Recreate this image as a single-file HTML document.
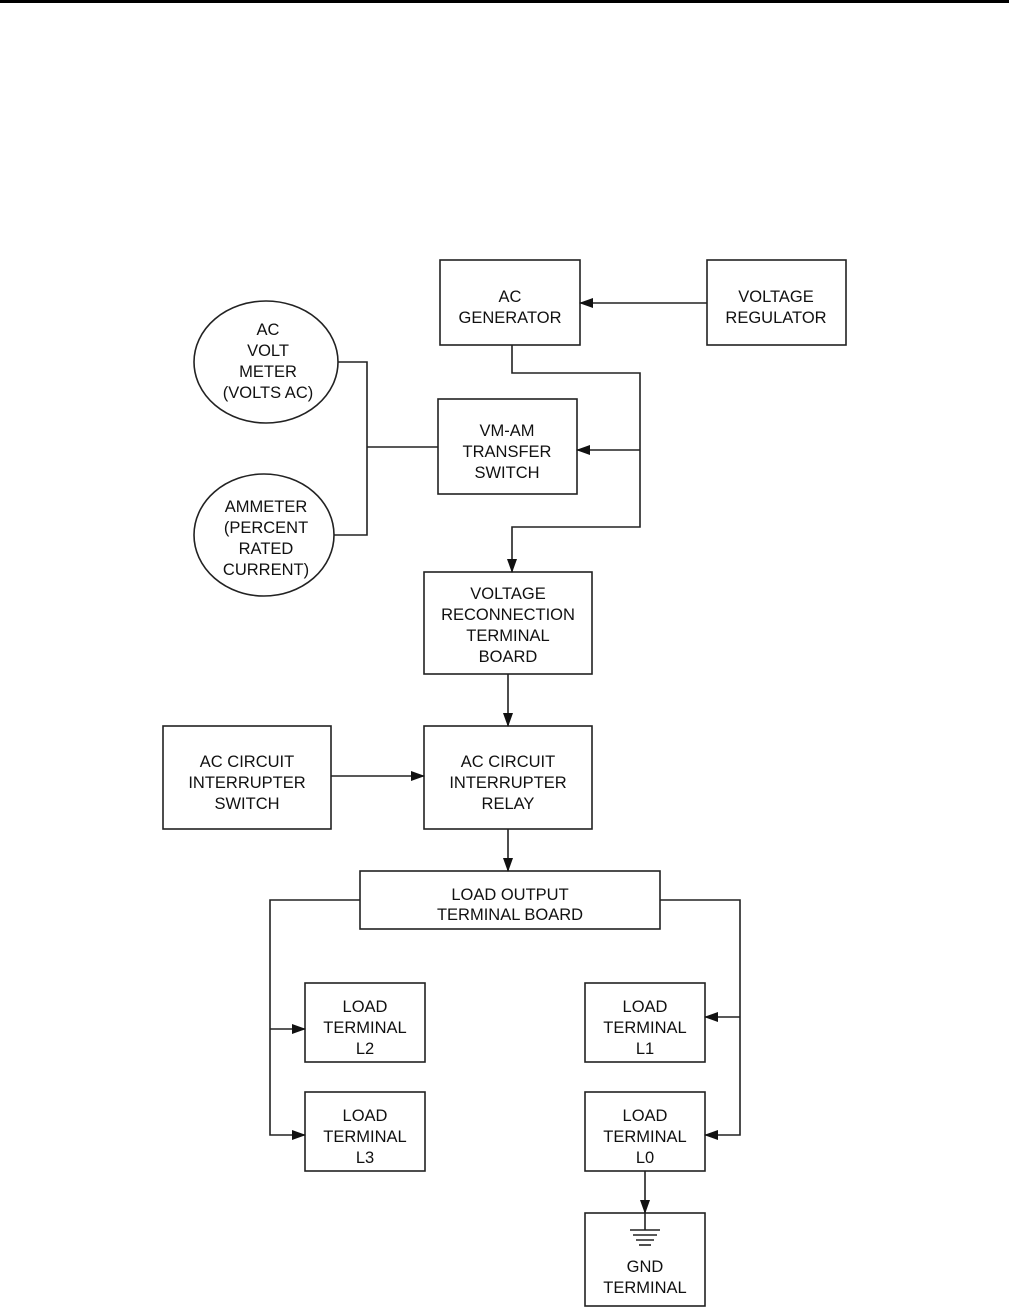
<!DOCTYPE html>
<html><head><style>
html,body{margin:0;padding:0;background:#fff;}
svg{display:block;}
text{font-family:"Liberation Sans",Arial,sans-serif;font-size:16.5px;fill:#111;text-anchor:middle;}
</style></head><body>
<svg width="1009" height="1309" viewBox="0 0 1009 1309" xmlns="http://www.w3.org/2000/svg">
<defs>
<marker id="a" markerWidth="14" markerHeight="10" refX="13" refY="5" orient="auto" markerUnits="userSpaceOnUse">
<path d="M0,0 L14,5 L0,10 z" fill="#111"/>
</marker>
</defs>
<rect x="0" y="0" width="1009" height="3" fill="#000"/>
<g fill="none" stroke="#222" stroke-width="1.6">
<rect x="440" y="260" width="140" height="85"/>
<rect x="707" y="260" width="139" height="85"/>
<ellipse cx="266" cy="362" rx="72" ry="61"/>
<ellipse cx="264" cy="535" rx="70" ry="61"/>
<rect x="438" y="399" width="139" height="95"/>
<rect x="424" y="572" width="168" height="102"/>
<rect x="163" y="726" width="168" height="103"/>
<rect x="424" y="726" width="168" height="103"/>
<rect x="360" y="871" width="300" height="58"/>
<rect x="305" y="983" width="120" height="79"/>
<rect x="305" y="1092" width="120" height="79"/>
<rect x="585" y="983" width="120" height="79"/>
<rect x="585" y="1092" width="120" height="79"/>
<rect x="585" y="1213" width="120" height="93"/>
<polyline points="338,362 367,362 367,535 334,535"/>
<line x1="367" y1="447" x2="438" y2="447"/>
<line x1="707" y1="303" x2="580" y2="303" marker-end="url(#a)"/>
<polyline points="512,345 512,373 640,373 640,527 512,527 512,572" marker-end="url(#a)"/>
<line x1="640" y1="450" x2="577" y2="450" marker-end="url(#a)"/>
<line x1="508" y1="674" x2="508" y2="726" marker-end="url(#a)"/>
<line x1="331" y1="776" x2="424" y2="776" marker-end="url(#a)"/>
<line x1="508" y1="829" x2="508" y2="871" marker-end="url(#a)"/>
<polyline points="360,900 270,900 270,1135 305,1135" marker-end="url(#a)"/>
<line x1="270" y1="1029" x2="305" y2="1029" marker-end="url(#a)"/>
<polyline points="660,900 740,900 740,1135 705,1135" marker-end="url(#a)"/>
<line x1="740" y1="1017" x2="705" y2="1017" marker-end="url(#a)"/>
<line x1="645" y1="1171" x2="645" y2="1213" marker-end="url(#a)"/>
<line x1="645" y1="1213" x2="645" y2="1230"/>
<line x1="630" y1="1230" x2="660" y2="1230"/>
<line x1="633" y1="1235" x2="657" y2="1235"/>
<line x1="636" y1="1240" x2="654" y2="1240"/>
<line x1="639" y1="1245" x2="651" y2="1245"/>
</g>
<text x="510" y="302">AC</text><text x="510" y="323">GENERATOR</text>
<text x="776" y="302">VOLTAGE</text><text x="776" y="323">REGULATOR</text>
<text x="268" y="335">AC</text><text x="268" y="356">VOLT</text><text x="268" y="377">METER</text><text x="268" y="398">(VOLTS AC)</text>
<text x="266" y="512">AMMETER</text><text x="266" y="533">(PERCENT</text><text x="266" y="554">RATED</text><text x="266" y="575">CURRENT)</text>
<text x="507" y="436">VM-AM</text><text x="507" y="457">TRANSFER</text><text x="507" y="478">SWITCH</text>
<text x="508" y="599">VOLTAGE</text><text x="508" y="620">RECONNECTION</text><text x="508" y="641">TERMINAL</text><text x="508" y="662">BOARD</text>
<text x="247" y="767">AC CIRCUIT</text><text x="247" y="788">INTERRUPTER</text><text x="247" y="809">SWITCH</text>
<text x="508" y="767">AC CIRCUIT</text><text x="508" y="788">INTERRUPTER</text><text x="508" y="809">RELAY</text>
<text x="510" y="900">LOAD OUTPUT</text><text x="510" y="920">TERMINAL BOARD</text>
<text x="365" y="1012">LOAD</text><text x="365" y="1033">TERMINAL</text><text x="365" y="1054">L2</text>
<text x="365" y="1121">LOAD</text><text x="365" y="1142">TERMINAL</text><text x="365" y="1163">L3</text>
<text x="645" y="1012">LOAD</text><text x="645" y="1033">TERMINAL</text><text x="645" y="1054">L1</text>
<text x="645" y="1121">LOAD</text><text x="645" y="1142">TERMINAL</text><text x="645" y="1163">L0</text>
<text x="645" y="1272">GND</text><text x="645" y="1293">TERMINAL</text>
</svg>
</body></html>
